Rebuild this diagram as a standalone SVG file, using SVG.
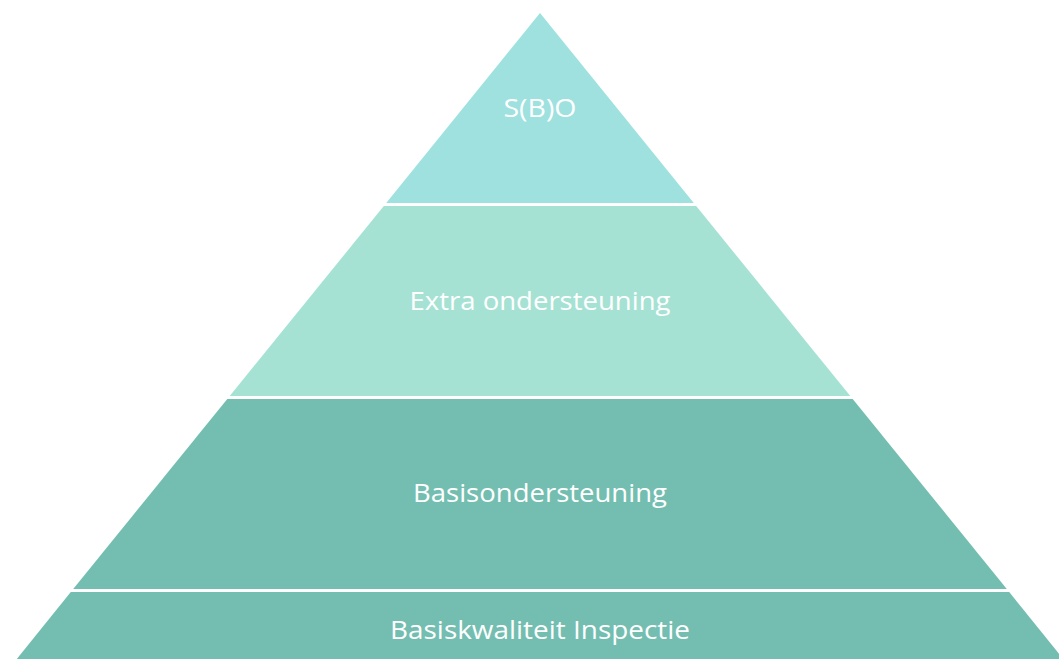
<svg xmlns="http://www.w3.org/2000/svg" width="1059" height="659" viewBox="0 0 1059 659">
<style>
.lbl{font-family:"Open Sans","Noto Sans",sans-serif;font-size:26px;fill:#ffffff;text-anchor:middle}
.sep{stroke:#ffffff;stroke-width:3}
</style>
<rect width="1059" height="659" fill="#ffffff"/>
<g id="layer-sbo">
<polygon points="540,13 695,204.5 385,204.5" fill="#9EE1DF"/>
<text class="lbl" x="540" y="117" textLength="73" lengthAdjust="spacingAndGlyphs">S(B)O</text>
</g>
<g id="layer-extra">
<polygon points="385,204.5 695,204.5 851.5,397.5 228.5,397.5" fill="#A6E2D4"/>
<text class="lbl" x="540" y="310" textLength="261" lengthAdjust="spacingAndGlyphs">Extra ondersteuning</text>
</g>
<g id="layer-basis">
<polygon points="228.5,397.5 851.5,397.5 1008,590.5 72,590.5" fill="#73BEB0"/>
<text class="lbl" x="540" y="502" textLength="254" lengthAdjust="spacingAndGlyphs">Basisondersteuning</text>
</g>
<g id="layer-inspectie">
<polygon points="72,590.5 1008,590.5 1064,660 16,660" fill="#73BEB0"/>
<text class="lbl" x="540" y="639" textLength="300" lengthAdjust="spacingAndGlyphs">Basiskwaliteit Inspectie</text>
</g>
<g id="connectors">
<line class="sep" x1="300" y1="204.5" x2="800" y2="204.5"/>
<line class="sep" x1="150" y1="397.5" x2="950" y2="397.5"/>
<line class="sep" x1="0" y1="590.5" x2="1059" y2="590.5"/>
</g>
</svg>
